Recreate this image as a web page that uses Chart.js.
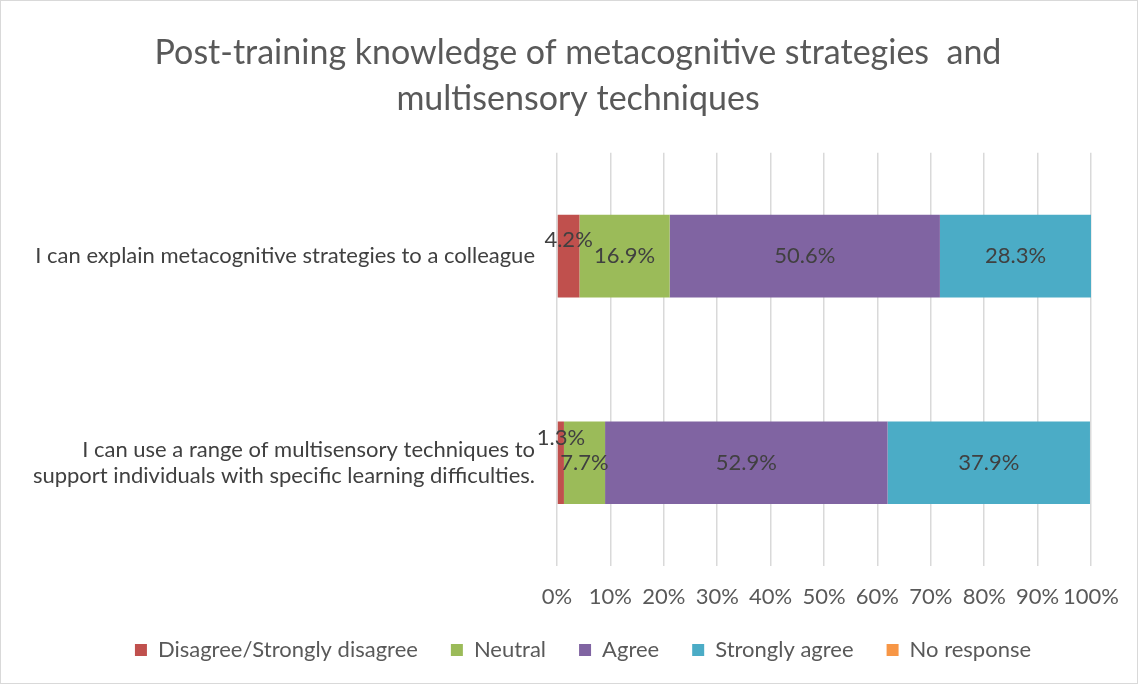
<!DOCTYPE html>
<html>
<head>
<meta charset="utf-8">
<script src="https://cdn.jsdelivr.net/npm/chart.js@4"></script>
<style>
  html, body { margin: 0; padding: 0; background: #fff; }
  #wrap { position: relative; width: 1136px; height: 682px; border: 1px solid #d9d9d9; }
</style>
</head>
<body>
<div id="wrap"><canvas id="knowledge_chart"></canvas></div>
<script>
const categories = [
    'I can explain metacognitive strategies to a colleague',
    ['I can use a range of multisensory techniques to', 'support individuals with specific learning difficulties.']
];
const seriesNames = ['Disagree/Strongly disagree', 'Neutral', 'Agree', 'Strongly agree', 'No response'];
const disagree = [4.2, 1.3];
const neutral = [16.9, 7.7];
const agree = [50.6, 52.9];
const stronglyAgree = [28.3, 37.9];
const noResponse = [0, 0];
const xTicks = [0, 10, 20, 30, 40, 50, 60, 70, 80, 90, 100];

const colors = ['#C0504D', '#9BBB59', '#8064A2', '#4BACC6', '#F79646'];
const font = 'Lato, "Liberation Sans", sans-serif';

// draws the percentage in the middle of each segment, small ones pushed up a bit
const segmentLabels = {
    id: 'segmentLabels',
    afterDatasetsDraw(chart) {
        const ctx = chart.ctx;
        ctx.save();
        ctx.font = '22px ' + font;
        ctx.fillStyle = '#404040';
        ctx.textAlign = 'center';
        ctx.textBaseline = 'middle';
        chart.data.datasets.forEach((ds, i) => {
            const meta = chart.getDatasetMeta(i);
            meta.data.forEach((bar, j) => {
                const v = ds.data[j];
                if (!v) return;
                const txt = v.toFixed(1) + '%';
                const w = Math.abs(bar.x - bar.base);
                const tw = ctx.measureText(txt).width;
                let dy = 0;
                if (tw > w + 10) dy = -Math.min(26, (tw - w) * 0.6);
                ctx.fillText(txt, (bar.x + bar.base) / 2, bar.y + dy);
            });
        });
        ctx.restore();
    }
};

// title and legend sit a little right of the canvas centre, like the original
const shiftBlocks = {
    id: 'shiftBlocks',
    afterLayout(chart) {
        if (chart.titleBlock) chart.titleBlock.left += 43;
        if (chart.legend) chart.legend.left += 53;
    }
};

const allSeries = [disagree, neutral, agree, stronglyAgree, noResponse];
const ctx = document.getElementById('knowledge_chart').getContext('2d');
const knowledgeChart = new Chart(ctx, {
    type: 'bar',
    data: {
        labels: categories,
        datasets: allSeries.map((d, i) => ({
            label: seriesNames[i],
            data: d,
            backgroundColor: colors[i],
            borderWidth: 0,
            barPercentage: 0.4,
            categoryPercentage: 1
        }))
    },
    options: {
        indexAxis: 'y',
        responsive: true,
        maintainAspectRatio: false,
        animation: false,
        layout: { padding: { left: 20, right: 45, top: 0, bottom: 12 } },
        scales: {
            x: {
                stacked: true,
                min: 0,
                max: 100,
                afterBuildTicks: s => { s.ticks = xTicks.map(v => ({ value: v })); },
                afterFit: s => { s.height = 40; },
                ticks: {
                    callback: v => v + '%',
                    color: '#595959',
                    font: { family: font, size: 22 },
                    padding: 18,
                    maxRotation: 0,
                    autoSkip: false
                },
                grid: { color: '#d9d9d9', lineWidth: 1.5, drawTicks: false },
                border: { display: false }
            },
            y: {
                stacked: true,
                afterFit: s => { s.width = 536; },
                ticks: {
                    color: '#404040',
                    font: { family: font, size: 22 },
                    padding: 22
                },
                grid: { display: false, drawTicks: false },
                border: { display: false }
            }
        },
        plugins: {
            title: {
                display: true,
                text: ['Post-training knowledge of metacognitive strategies  and', 'multisensory techniques'],
                color: '#595959',
                font: { family: font, size: 34, weight: 'normal', lineHeight: 1.35 },
                padding: { top: 29, bottom: 31 }
            },
            legend: {
                display: true,
                position: 'bottom',
                labels: {
                    color: '#595959',
                    font: { family: font, size: 22 },
                    boxWidth: 12,
                    boxHeight: 12,
                    padding: 33
                }
            },
            tooltip: { enabled: false }
        }
    },
    plugins: [segmentLabels, shiftBlocks]
});
</script>
</body>
</html>
